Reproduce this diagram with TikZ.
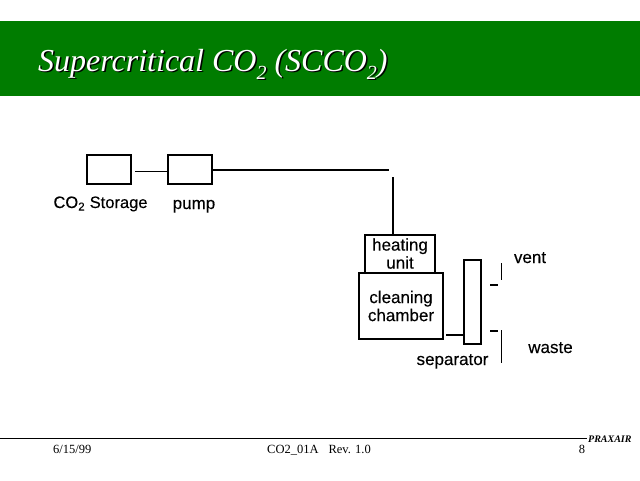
\documentclass[tikz,border=0pt]{standalone}
\usepackage{fontspec}
\setmainfont{Liberation Sans}
\newfontfamily\timesfont{Liberation Serif}
\newfontfamily\labelfont[FakeBold=0.25]{Liberation Sans}
\usetikzlibrary{positioning, calc}
\definecolor{bannergreen}{RGB}{0,124,0}
\newcommand{\titlesub}{\raisebox{-8pt}{\fontsize{20}{22}\selectfont 2}}
\newcommand{\titletext}{Supercritical CO\titlesub{} (SCCO\titlesub)}

\begin{document}
\begin{tikzpicture}[x=1pt, y=-1pt, box/.style={draw, line width=2pt, minimum width=44pt, minimum height=28.5pt, inner sep=0pt}, pipe/.style={line width=2pt}, thinpipe/.style={line width=1pt}, labeltext/.style={font=\labelfont\fontsize{17}{18}\selectfont, inner sep=0pt, align=center}, footer/.style={font=\timesfont\fontsize{12.5}{14}\selectfont, inner sep=0pt}, titletype/.style={font=\timesfont\itshape\fontsize{32}{36}\selectfont, inner sep=0pt, anchor=base west}, node distance=35pt]
        \useasboundingbox (0,0) rectangle (640,480);
        % banner
        \fill[bannergreen] (0,21) rectangle (640,96);
        \node[titletype, text=black] (titleshadow) at (39.5,72) {\titletext};
        \node[titletype, text=white] (title) at (38,71) {\titletext};
        % supply side
        \node[box] (storage) at (109,169.5) {};
        \node[box, right=of storage] (pump) {};
        \node[labeltext, font=\labelfont\fontsize{16.5}{18}\selectfont, anchor=base] (storagelabel) at (100.5,208) {CO\textsubscript{2} Storage};
        \node[labeltext, anchor=base] (pumplabel) at (194,209) {pump};
        \coordinate (pipeend) at (389,169.5);
        \coordinate (drop) at (393,177);
        \draw[thinpipe, shorten <=3pt] ([yshift=-1.5pt]storage.east) -- ([yshift=-1.5pt]pump.west);
        \draw[pipe] (pump.east) -- (pipeend);
        % chamber
        \node[box, minimum width=70pt, minimum height=38pt, labeltext] (heating) at (400,253.5) {heating\\unit};
        \node[box, minimum width=84pt, minimum height=66pt, labeltext] (chamber) at (401,306) {cleaning\\chamber};
        \draw[pipe] (drop) -- (drop |- heating.north);
        % separator
        \node[box, minimum width=17pt, minimum height=84pt] (separator) at (472.5,301.5) {};
        \node[labeltext, anchor=base] (separatorlabel) at (452.5,365) {separator};
        \coordinate (outlet) at (446,335);
        \draw[pipe] (outlet) -- (outlet -| separator.west);
        % outlets
        \coordinate (ventdasha) at (490,285);
        \coordinate (ventdashb) at (498,285);
        \coordinate (wastedasha) at (490,331);
        \coordinate (wastedashb) at (498,331);
        \coordinate (venttop) at (501.5,263);
        \coordinate (ventbottom) at (501.5,280);
        \coordinate (wastetop) at (501.5,330);
        \coordinate (wastebottom) at (501.5,363);
        \draw[pipe] (ventdasha) -- (ventdashb);
        \draw[pipe] (wastedasha) -- (wastedashb);
        \draw[thinpipe] (venttop) -- (ventbottom);
        \draw[thinpipe] (wastetop) -- (wastebottom);
        \node[labeltext, anchor=base] (ventlabel) at (530,263) {vent};
        \node[labeltext, anchor=base] (wastelabel) at (550.5,353) {waste};
        % footer
        \coordinate (rulestart) at (0,438);
        \coordinate (ruleend) at (587,438);
        \draw[thinpipe] (rulestart) -- (ruleend);
        \node[footer, anchor=base west] (date) at (53,453) {6/15/99};
        \node[footer, anchor=base] (revision) at (319,453) {CO2\_01A\hspace{10pt}Rev. 1.0};
        \node[footer, anchor=base] (pagenumber) at (582,453) {8};
        \node[footer, anchor=base west, font=\timesfont\bfseries\itshape\fontsize{10}{12}\selectfont] (praxair) at (588,442) {PRAXAIR};
    \end{tikzpicture}
\end{document}
